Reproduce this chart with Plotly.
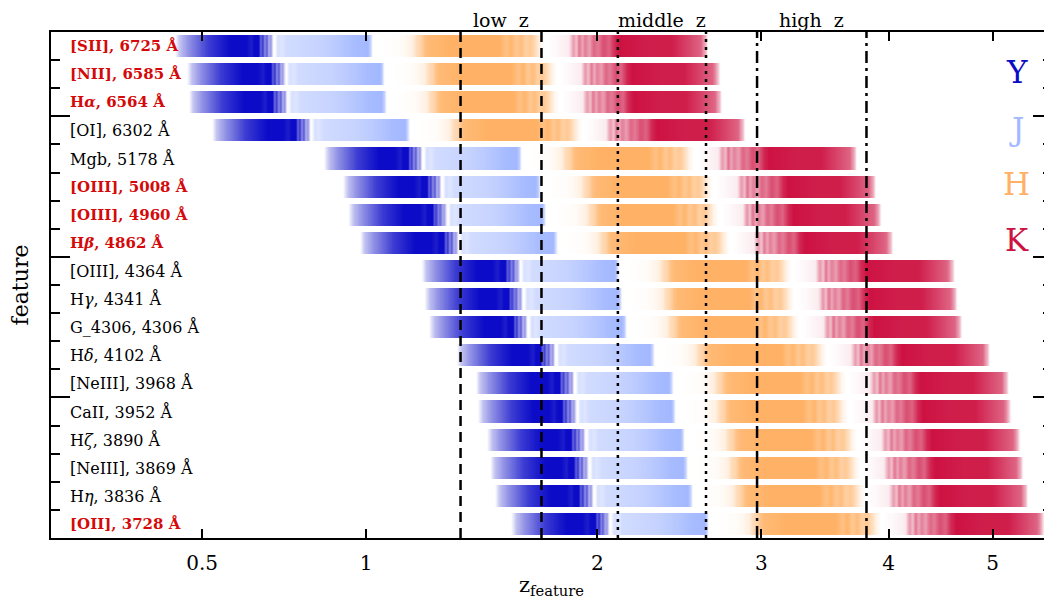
import numpy as np
import plotly.graph_objects as go

# ---------------- data ----------------
feature_labels = ["[SII]", "[NII]", "H<i>α</i>", "[OI]", "Mgb", "[OIII]", "[OIII]", "H<i>β</i>",
                  "[OIII]", "H<i>γ</i>", "G_4306", "H<i>δ</i>", "[NeIII]", "CaII", "H<i>ζ</i>",
                  "[NeIII]", "H<i>η</i>", "[OII]"]
rest_wavelength = [6725, 6585, 6564, 6302, 5178, 5008, 4960, 4862, 4364, 4341, 4306, 4102,
                   3968, 3952, 3890, 3869, 3836, 3728]
highlighted = [True, True, True, False, False, True, True, True, False, False, False, False,
               False, False, False, False, False, True]

band_names = ["Y", "J", "H", "K"]
band_colors = ["#0c0cc8", "#a3b8ff", "#ffb266", "#cd1242"]

# band throughput (observed wavelength in micron, relative transmission)
Y_wave = [0.962, 0.970, 0.985, 1.000, 1.020, 1.045, 1.060, 1.090, 1.100, 1.105, 1.115,
          1.118, 1.122, 1.126, 1.130, 1.134, 1.138, 1.143]
Y_trans = [0.0, 0.25, 0.45, 0.6, 0.8, 0.93, 1.0, 1.0, 0.92, 1.0, 1.0,
           0.6, 0.85, 0.45, 0.7, 0.3, 0.45, 0.0]
J_wave = [1.146, 1.152, 1.160, 1.170, 1.200, 1.240, 1.270, 1.300, 1.320, 1.350, 1.356, 1.360]
J_trans = [0.0, 0.45, 0.35, 0.5, 0.55, 0.62, 0.72, 0.85, 0.95, 1.0, 0.6, 0.0]
H_wave = [1.380, 1.420, 1.440, 1.460, 1.470, 1.480, 1.490, 1.500, 1.560, 1.700, 1.720,
          1.735, 1.750, 1.765, 1.780, 1.795, 1.810, 1.825, 1.840]
H_trans = [0.0, 0.03, 0.08, 0.2, 0.45, 0.55, 0.8, 0.9, 1.0, 1.0, 0.8,
           0.95, 0.7, 0.85, 0.6, 0.7, 0.45, 0.15, 0.0]
K_wave = [1.850, 1.880, 1.920, 1.935, 1.945, 1.955, 1.965, 1.975, 1.990, 2.005, 2.020,
          2.040, 2.060, 2.080, 2.100, 2.200, 2.300, 2.340, 2.380, 2.420, 2.440, 2.450]
K_trans = [0.0, 0.03, 0.08, 0.45, 0.25, 0.6, 0.35, 0.55, 0.4, 0.65, 0.55,
           0.75, 0.65, 0.9, 1.0, 0.95, 0.95, 0.85, 0.75, 0.65, 0.3, 0.0]
band_waves = [Y_wave, J_wave, H_wave, K_wave]
band_trans = [Y_trans, J_trans, H_trans, K_trans]

z_low = [1.36, 1.72]
z_mid = [2.11, 2.63]
z_high = [2.97, 3.81]
sample_names = ["low z", "middle z", "high z"]

z_ticks = [0.5, 1, 2, 3, 4, 5]

# ---------------- figure ----------------
n = len(rest_wavelength)
row_y = [n - 0.5 - i for i in range(n)]
one_plus_z = np.geomspace(1.15, 6.7, 1800)

fig = go.Figure()
for wave, trans, col in zip(band_waves, band_trans, band_colors):
    Z = []
    for lam in rest_wavelength:
        t = np.interp(one_plus_z * lam / 1e4, wave, trans, left=0.0, right=0.0)
        Z.append([v if v > 0 else None for v in t])
    fig.add_trace(go.Heatmap(x=one_plus_z, y=row_y, z=Z, zmin=0, zmax=1,
                             colorscale=[[0, "#ffffff"], [1, col]], showscale=False,
                             ygap=6, hoverinfo="skip"))

line_styles = ["10px,6px", "3px,5px", "12px,5px,3px,5px"]
for zz, dash in zip([z_low, z_mid, z_high], line_styles):
    for v in zz:
        fig.add_trace(go.Scatter(x=[1 + v, 1 + v], y=[0, n], mode="lines",
                                 line=dict(color="black", width=2.5, dash=dash),
                                 hoverinfo="skip", showlegend=False))

ann = []
for lab, lam, hl, y in zip(feature_labels, rest_wavelength, highlighted, row_y):
    ann.append(dict(x=0.017, xref="paper", y=y, yref="y", xanchor="left", yanchor="middle",
                    text=f"{lab}, {lam} Å", showarrow=False,
                    font=dict(family="DejaVu Serif", size=15 if hl else 16,
                              color="#d40a0a" if hl else "black",
                              weight="bold" if hl else "normal")))
for name, zz in zip(sample_names, [z_low, z_mid, z_high]):
    xc = np.mean(np.log10(1 + np.array(zz)))
    ann.append(dict(x=xc, xref="x", y=1, yref="paper", yanchor="bottom", yshift=0,
                    borderpad=0, text=name.replace(" ", "\u00a0\u00a0"), showarrow=False,
                    font=dict(family="DejaVu Serif", size=19, color="black")))
legend_y = [0.92, 0.809, 0.699, 0.588]
for name, col, ly in zip(band_names, band_colors, legend_y):
    ann.append(dict(x=0.965, xref="paper", y=ly, yref="paper", xanchor="center",
                    yanchor="middle", text=name, showarrow=False,
                    font=dict(family="DejaVu Serif", size=31, color=col)))

# the page body has an 8px margin, so the figure is sized to fit the window
fig.update_layout(
    width=1044, height=591,
    margin=dict(l=43, r=0, t=24, b=61),
    paper_bgcolor="white", plot_bgcolor="white",
    font=dict(family="DejaVu Serif", color="black"),
    showlegend=False,
    annotations=ann,
    xaxis=dict(type="log", range=[np.log10(1.1506), np.log10(6.66)],
               tickvals=[1 + t for t in z_ticks], ticktext=[str(t) for t in z_ticks],
               ticks="inside", ticklen=9, tickwidth=1.5, tickcolor="black",
               showline=True, linecolor="black", linewidth=2, mirror="ticks",
               showgrid=False, zeroline=False, tickfont=dict(size=20), automargin=False,
               ticklabelstandoff=6,
               title=dict(text="z<sub>feature</sub>", font=dict(size=21), standoff=3)),
    yaxis=dict(range=[0, n], tickvals=[5, 10, 15], ticks="inside", ticklen=19,
               tickwidth=1.5, tickcolor="black", showticklabels=False, automargin=False,
               minor=dict(dtick=1, tick0=0, ticks="inside", ticklen=9, tickwidth=1.5,
                          tickcolor="black"),
               showline=True, linecolor="black", linewidth=2, mirror="ticks",
               showgrid=False, zeroline=False,
               title=dict(text="feature", font=dict(size=22), standoff=20)),
)

fig.write_html("out.html")
